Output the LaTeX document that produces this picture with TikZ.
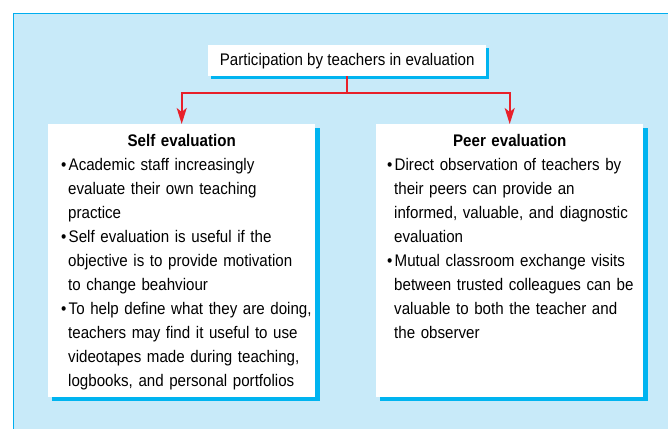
\documentclass[tikz,border=0pt]{standalone}
\usepackage{fontspec}
\setmainfont[FakeStretch=0.9]{Liberation Sans}
\usetikzlibrary{arrows.meta}
\definecolor{panelbg}{HTML}{C8EAF9}
\definecolor{cyanline}{HTML}{00AEEF}
\definecolor{shadowc}{HTML}{00B4F0}
\definecolor{redline}{HTML}{E8202A}
\tikzset{
  whitebox/.style={fill=white, inner sep=0pt, anchor=north west},
  txt/.style={inner sep=0pt, anchor=north west, align=left, text width=320pt, font=\fontsize{16.8}{24}\selectfont},
  conn/.style={draw=redline, line width=2pt, -{Stealth[length=16pt,width=10pt,inset=4pt]}},
}
\newcommand{\bul}{\makebox[7.5pt][l]{\textbullet}}
\newcommand{\ind}{\hspace*{7pt}}
\begin{document}
\begin{tikzpicture}[x=1pt,y=1pt]
\useasboundingbox (0,0) rectangle (668,-428);
\fill[white] (0,0) rectangle (668,-428);
\fill[panelbg] (13,-14) rectangle (670,-430);
\draw[cyanline, line width=1pt] (13,-430) -- (13,-14) -- (670,-14);
% top box
\fill[shadowc] (211,-48) rectangle (489,-79);
\node[whitebox, minimum width=278pt, minimum height=31pt] (top) at (208,-45) {};
\node[font=\fontsize{16.8}{20}\selectfont, inner sep=0pt] (toptext) at (top.center) {Participation by teachers in evaluation};
% self box
\fill[shadowc] (52,-128) rectangle (320,-401);
\node[whitebox, minimum width=267pt, minimum height=273pt] (self) at (48,-124) {};
% peer box
\fill[shadowc] (380,-128) rectangle (648,-401);
\node[whitebox, minimum width=267pt, minimum height=273pt] (peer) at (376,-124) {};
% texts
\node[txt] (selftext) at (61,-134) {%
\makebox[241pt]{\bfseries Self evaluation}\\
\bul Academic staff increasingly\\
\ind evaluate their own teaching\\
\ind practice\\
\bul Self evaluation is useful if the\\
\ind objective is to provide motivation\\
\ind to change beahviour\\
\bul To help define what they are doing,\\
\ind teachers may find it useful to use\\
\ind videotapes made during teaching,\\
\ind logbooks, and personal portfolios};
\node[txt] (peertext) at (387,-134) {%
\makebox[245pt]{\bfseries Peer evaluation}\\
\bul Direct observation of teachers by\\
\ind their peers can provide an\\
\ind informed, valuable, and diagnostic\\
\ind evaluation\\
\bul Mutual classroom exchange visits\\
\ind between trusted colleagues can be\\
\ind valuable to both the teacher and\\
\ind the observer};
% connectors
\coordinate (split) at ([yshift=-17pt]top.south);
\draw[redline, line width=2pt] (top.south) -- (split);
\draw[conn] (split) -| (self.north);
\draw[conn] (split) -| (peer.north);
\end{tikzpicture}
\end{document}
